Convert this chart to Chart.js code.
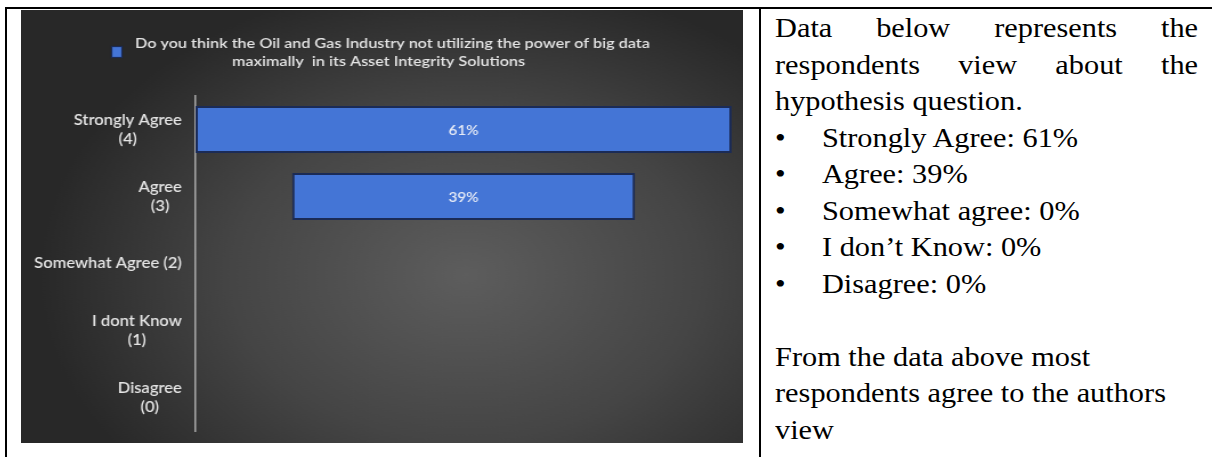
<!DOCTYPE html>
<html>
<head>
<meta charset="utf-8">
<script src="https://cdn.jsdelivr.net/npm/chart.js@4/dist/chart.umd.min.js"></script>
<style>
  html, body { margin: 0; padding: 0; background: #fff; }
  body { width: 1212px; height: 457px; position: relative; overflow: hidden; }
  .rule { position: absolute; background: #000; }
  #plotBox { position: absolute; left: 21px; top: 10px; width: 633px; height: 433px;
             transform: scaleX(1.1406); transform-origin: 0 0; filter: blur(0.4px); }
  #note { position: absolute; left: 775px; top: 10px; width: 369.5px;
          font-family: "Liberation Serif", "Times New Roman", serif; font-size: 26.5px;
          line-height: 36.5px; color: #000; transform: scaleX(1.145); transform-origin: 0 0; }
  #note .intro { text-align: justify; margin: 0; }
  #note .item { white-space: nowrap; }
  #note .dot { display: inline-block; width: 41px; }
  #note .closing { margin: 36.5px 0 0 0; }
</style>
</head>
<body>
<div class="rule" style="left:5px; top:7px; width:1207px; height:2px;"></div>
<div class="rule" style="left:5px; top:7px; width:2px; height:450px;"></div>
<div class="rule" style="left:759px; top:7px; width:2px; height:450px;"></div>

<div id="plotBox"><canvas id="survey" width="633" height="433"></canvas></div>

<div id="note">
  <p class="intro">Data below represents the respondents view about the hypothesis question.</p>
  <div id="items"></div>
  <p class="closing">From the data above most<br>respondents agree to the authors<br>view</p>
</div>

<script>
// Response categories, top to bottom, each split into its printed lines
const categories = [
  ['Strongly Agree', '(4)'],
  ['Agree', '(3)'],
  ['Somewhat Agree (2)'],
  ['I dont Know', '(1)'],
  ['Disagree', '(0)']
];
// Share of respondents per category, in percent
const shares = [61, 39, 0, 0, 0];
// Series name as it wraps in the key
const seriesLines = [
  'Do you think the Oil and Gas Industry not utilizing the power of big data',
  'maximally  in its Asset Integrity Solutions'
];
// Names used in the written summary
const noteNames = ['Strongly Agree', 'Agree', 'Somewhat agree', 'I don\u2019t Know', 'Disagree'];

// Written summary list
const items = document.getElementById('items');
noteNames.forEach((name, i) => {
  const row = document.createElement('div');
  row.className = 'item';
  const dot = document.createElement('span');
  dot.className = 'dot';
  dot.textContent = '\u2022';
  row.appendChild(dot);
  row.appendChild(document.createTextNode(name + ': ' + shares[i] + '%'));
  items.appendChild(row);
});

const BAR_FILL = '#4475d6';
const BAR_EDGE = '#1b2b56';
const TEXT = '#e4e4e4';

// Dark radial backdrop behind the whole chart
const backdrop = {
  id: 'backdrop',
  beforeDraw(chart) {
    const { ctx, width, height } = chart;
    const cx = 390, cy = 265, sx = 1.25;
    ctx.save();
    ctx.translate(cx, cy);
    ctx.scale(sx, 1);
    const g = ctx.createRadialGradient(0, 0, 0, 0, 0, 300);
    g.addColorStop(0, '#5d5d5d');
    g.addColorStop(0.55, '#454545');
    g.addColorStop(1, '#282828');
    ctx.fillStyle = g;
    ctx.fillRect(-cx / sx, -cy, width / sx, height);
    ctx.restore();
  }
};

// Key, category labels and value labels
const annotate = {
  id: 'annotate',
  afterDraw(chart) {
    const { ctx } = chart;
    const yScale = chart.scales.y;
    ctx.save();

    // key swatch and wrapped series name
    ctx.fillStyle = BAR_FILL;
    ctx.strokeStyle = BAR_EDGE;
    ctx.lineWidth = 1.2;
    ctx.fillRect(79.5, 36.5, 9, 11);
    ctx.strokeRect(79.5, 36.5, 9, 11);
    ctx.fillStyle = TEXT;
    ctx.font = '600 14.2px Lato';
    ctx.textBaseline = 'middle';
    ctx.textAlign = 'left';
    ctx.fillText(seriesLines[0], 100, 33.5);
    ctx.textAlign = 'center';
    ctx.fillText(seriesLines[1], 313.5, 51.5);

    // category labels: block right-aligned, lines centred within the block
    ctx.font = '600 14.5px Lato';
    const rightEdge = yScale.left - 12;
    categories.forEach((lines, i) => {
      const cy = yScale.getPixelForValue(i);
      const w = Math.max(...lines.map(l => ctx.measureText(l).width));
      const cx = rightEdge - w / 2;
      lines.forEach((l, k) => {
        ctx.fillText(l, cx, cy + (k - (lines.length - 1) / 2) * 19);
      });
    });

    // value labels centred in each bar
    ctx.font = '600 13.5px Lato';
    ctx.fillStyle = '#e6ebf6';
    chart.getDatasetMeta(0).data.forEach((bar, i) => {
      if (!shares[i]) return;
      const p = bar.getProps(['x', 'base', 'y'], true);
      ctx.fillText(shares[i] + '%', (p.x + p.base) / 2, p.y + 1);
    });
    ctx.restore();
  }
};

const peak = Math.max(...shares);
// Each bar is centred on zero, so the bars line up like a funnel
const spans = shares.map(v => [-v / 2, v / 2]);

function draw() {
  new Chart(document.getElementById('survey'), {
    type: 'bar',
    data: {
      labels: categories,
      datasets: [{
        label: seriesLines.join(' '),
        data: spans,
        backgroundColor: BAR_FILL,
        borderColor: BAR_EDGE,
        borderWidth: c => (shares[c.dataIndex] ? 2 : 0),
        borderSkipped: false,
        barPercentage: 0.7,
        categoryPercentage: 1
      }]
    },
    options: {
      indexAxis: 'y',
      responsive: false,
      animation: false,
      devicePixelRatio: 1,
      layout: { padding: { left: 153, right: 10, top: 86, bottom: 12 } },
      plugins: {
        legend: { display: false },
        title: { display: false },
        tooltip: { enabled: false }
      },
      scales: {
        x: { display: false, min: -peak / 2, max: peak / 2 },
        y: {
          grid: { display: false, drawTicks: false },
          ticks: { display: false },
          border: { display: true, color: '#a9a9a9', width: 1.5 }
        }
      }
    },
    plugins: [backdrop, annotate]
  });
}

if (document.fonts && document.fonts.load) {
  Promise.all([document.fonts.load('600 15px Lato'), document.fonts.load('26px "Liberation Serif"')])
    .then(draw, draw);
} else {
  draw();
}
</script>
</body>
</html>
